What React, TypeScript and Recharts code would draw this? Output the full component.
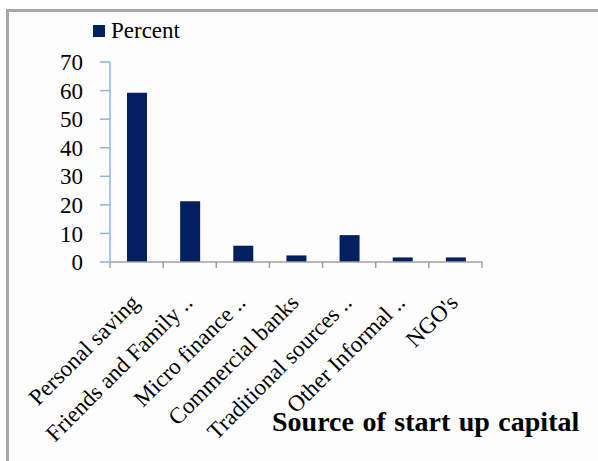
import React from 'react';
import { BarChart, Bar, XAxis, YAxis } from 'recharts';

const categories = [
  'Personal saving',
  'Friends and Family ..',
  'Micro finance ..',
  'Commercial banks',
  'Traditional sources ..',
  'Other Informal ..',
  "NGO's",
];
const percent = [59.2, 21.3, 5.7, 2.3, 9.4, 1.6, 1.6];
const yTicks = [0, 10, 20, 30, 40, 50, 60, 70];
const seriesName = 'Percent';
const axisTitle = 'Source of start up capital';

const data = categories.map((c, i) => ({ category: c, percent: percent[i] }));

const FONT = 'Liberation Serif, Times New Roman, DejaVu Serif, serif';
const BAR = '#02205F';
const XAXIS = '#A0A0A0';
const YAXIS = '#8EB4E3';

const XTick = (props: any) => {
  const { x, y, payload, index, visibleTicksCount } = props;
  const half = payload && payload.offset ? payload.offset : 26.5;
  const tx = x + 4;
  const ty = y + 42;
  return (
    <g>
      <line x1={x - half} x2={x - half} y1={y} y2={y + 6} stroke={XAXIS} strokeWidth={1.5} />
      {index === visibleTicksCount - 1 && (
        <line x1={x + half} x2={x + half} y1={y} y2={y + 6} stroke={XAXIS} strokeWidth={1.5} />
      )}
      <text
        x={tx}
        y={ty}
        textAnchor="end"
        transform={`rotate(-45, ${tx}, ${ty})`}
        style={{ fontFamily: FONT, fontSize: 23 }}
        fill="#000"
      >
        {payload.value}
      </text>
    </g>
  );
};

export default function App() {
  return (
    <div style={{ position: 'absolute', left: 0, top: 0, width: 598, height: 461, background: '#fff', overflow: 'hidden', fontFamily: FONT }}>
      <div
        style={{
          position: 'absolute',
          left: 6,
          top: 9,
          width: 620,
          height: 480,
          borderLeft: '3px solid #A8A8A8',
          borderTop: '3px solid #A8A8A8',
          background: '#FDFDFD',
        }}
      />
      <div style={{ position: 'absolute', left: 0, top: 0 }}>
        <BarChart
          width={598}
          height={461}
          data={data}
          margin={{ top: 62, right: 116, bottom: 0, left: 10 }}
          style={{ fontFamily: FONT }}
        >
          <YAxis
            width={100}
            domain={[0, 70]}
            ticks={yTicks}
            interval={0}
            axisLine={{ stroke: YAXIS, strokeWidth: 1.5 }}
            tickLine={{ stroke: YAXIS, strokeWidth: 1.5 }}
            tickSize={10}
            tickMargin={17}
            tick={{ fontFamily: FONT, fontSize: 23, fill: '#000', style: { fontFamily: FONT } }}
          />
          <XAxis
            dataKey="category"
            height={199}
            interval={0}
            tickSize={0}
            tickMargin={0}
            tickLine={false}
            axisLine={{ stroke: XAXIS, strokeWidth: 1.5 }}
            tick={<XTick />}
          />
          <Bar dataKey="percent" name={seriesName} fill={BAR} barSize={20} isAnimationActive={false} />
        </BarChart>
      </div>
      <svg width={598} height={461} style={{ position: 'absolute', left: 0, top: 0, pointerEvents: 'none' }}>
        <rect x={93} y={25} width={12} height={12} fill={BAR} />
        <text x={111} y={38} style={{ fontFamily: FONT, fontSize: 23 }} fill="#000">
          {seriesName}
        </text>
        <text x={272} y={431} style={{ fontFamily: FONT, fontSize: 28, fontWeight: 'bold', wordSpacing: 1.5 }} fill="#000">
          {axisTitle}
        </text>
      </svg>
    </div>
  );
}
